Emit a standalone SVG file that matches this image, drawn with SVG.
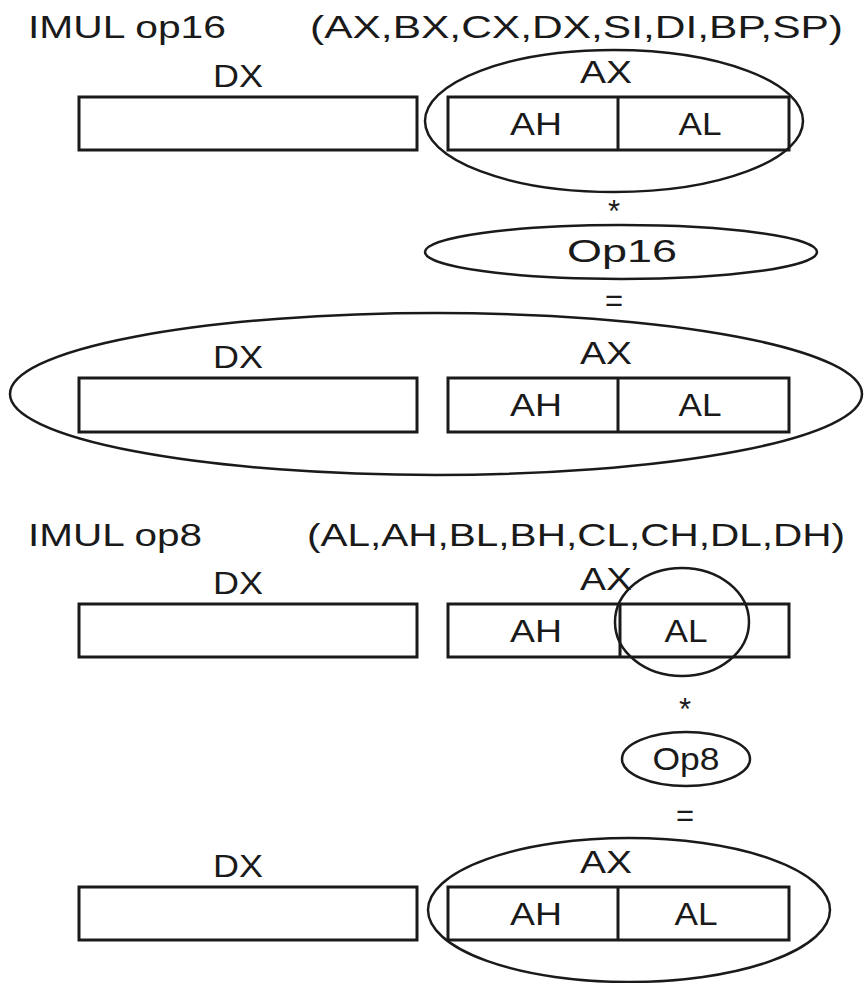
<svg xmlns="http://www.w3.org/2000/svg" width="865" height="983" viewBox="0 0 865 983">
<style>
text{font-family:"Liberation Sans",Arial,sans-serif;font-size:31px;fill:#1a1a1a}
.c{text-anchor:middle}
.box{fill:none;stroke:#1a1a1a;stroke-width:3}
.ov{fill:none;stroke:#1a1a1a;stroke-width:2.5}
</style>
<rect width="865" height="983" fill="#fff"/>
<g id="title16">
<text x="28" y="38" textLength="198" lengthAdjust="spacingAndGlyphs">IMUL op16</text>
<text x="310" y="38" textLength="533" lengthAdjust="spacingAndGlyphs">(AX,BX,CX,DX,SI,DI,BP,SP)</text>
</g>
<g id="row1">
<text class="c" x="238" y="87" textLength="50" lengthAdjust="spacingAndGlyphs">DX</text>
<text class="c" x="606" y="83" textLength="52" lengthAdjust="spacingAndGlyphs">AX</text>
<rect class="box" x="79" y="97" width="338" height="53"/>
<rect class="box" x="448" y="97" width="341" height="53"/>
<line class="box" x1="618" y1="97" x2="618" y2="150"/>
<text class="c" x="536" y="135" textLength="52" lengthAdjust="spacingAndGlyphs">AH</text>
<text class="c" x="700" y="135" textLength="43" lengthAdjust="spacingAndGlyphs">AL</text>
<ellipse class="ov" cx="614" cy="121" rx="189" ry="71"/>
</g>
<g id="op16">
<text class="c" x="614" y="222">*</text>
<ellipse class="ov" cx="621" cy="252" rx="196" ry="27"/>
<text class="c" x="622" y="262" font-size="34" textLength="110" lengthAdjust="spacingAndGlyphs">Op16</text>
<text class="c" x="614" y="311" font-size="34">=</text>
</g>
<g id="row2">
<text class="c" x="238" y="368" textLength="50" lengthAdjust="spacingAndGlyphs">DX</text>
<text class="c" x="606" y="364" textLength="52" lengthAdjust="spacingAndGlyphs">AX</text>
<rect class="box" x="79" y="378" width="338" height="54"/>
<rect class="box" x="448" y="378" width="341" height="54"/>
<line class="box" x1="618" y1="378" x2="618" y2="432"/>
<text class="c" x="536" y="416" textLength="52" lengthAdjust="spacingAndGlyphs">AH</text>
<text class="c" x="700" y="416" textLength="43" lengthAdjust="spacingAndGlyphs">AL</text>
<ellipse class="ov" cx="436" cy="394" rx="426" ry="81"/>
</g>
<g id="title8">
<text x="28" y="546" textLength="174" lengthAdjust="spacingAndGlyphs">IMUL op8</text>
<text x="307" y="546" textLength="538" lengthAdjust="spacingAndGlyphs">(AL,AH,BL,BH,CL,CH,DL,DH)</text>
</g>
<g id="row3">
<text class="c" x="238" y="594" textLength="50" lengthAdjust="spacingAndGlyphs">DX</text>
<text class="c" x="606" y="590" textLength="52" lengthAdjust="spacingAndGlyphs">AX</text>
<rect class="box" x="79" y="604" width="338" height="53"/>
<rect class="box" x="448" y="604" width="341" height="53"/>
<line class="box" x1="620" y1="604" x2="620" y2="657"/>
<text class="c" x="536" y="642" textLength="52" lengthAdjust="spacingAndGlyphs">AH</text>
<text class="c" x="686" y="642" textLength="43" lengthAdjust="spacingAndGlyphs">AL</text>
<ellipse class="ov" cx="682" cy="622" rx="67" ry="54"/>
</g>
<g id="op8">
<text class="c" x="685" y="720">*</text>
<ellipse class="ov" cx="686" cy="759" rx="64" ry="27"/>
<text class="c" x="686" y="770" font-size="34" textLength="67" lengthAdjust="spacingAndGlyphs">Op8</text>
<text class="c" x="685" y="826" font-size="34">=</text>
</g>
<g id="row4">
<text class="c" x="238" y="877" textLength="50" lengthAdjust="spacingAndGlyphs">DX</text>
<text class="c" x="606" y="873" textLength="52" lengthAdjust="spacingAndGlyphs">AX</text>
<rect class="box" x="79" y="887" width="338" height="53"/>
<rect class="box" x="448" y="887" width="341" height="53"/>
<line class="box" x1="618" y1="887" x2="618" y2="940"/>
<text class="c" x="536" y="925" textLength="52" lengthAdjust="spacingAndGlyphs">AH</text>
<text class="c" x="696" y="925" textLength="43" lengthAdjust="spacingAndGlyphs">AL</text>
<ellipse class="ov" cx="629" cy="910" rx="201" ry="72"/>
</g>
<g id="connectors"></g>
</svg>
